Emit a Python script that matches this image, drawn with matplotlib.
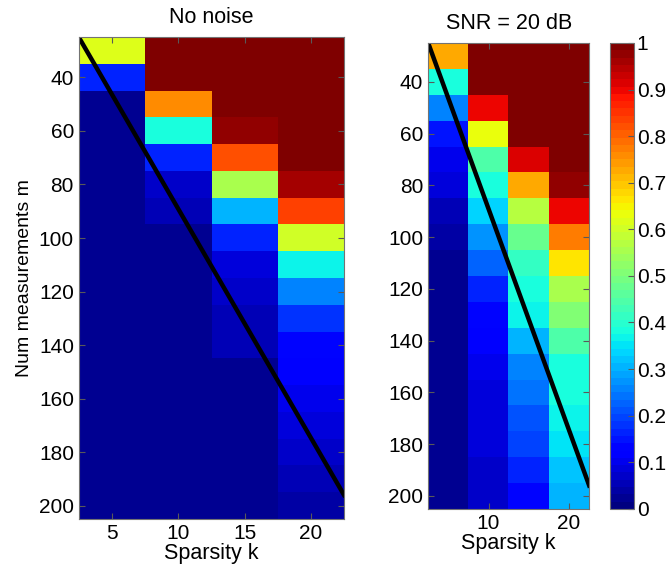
import numpy as np
import matplotlib.pyplot as plt

plt.rcParams['font.family'] = ['Liberation Sans', 'DejaVu Sans']

k_vals = [5, 10, 15, 20]
m_vals = [30, 40, 50, 60, 70, 80, 90, 100, 110, 120, 130, 140, 150, 160, 170, 180, 190, 200]

# probability of failure, one list per sparsity k (rows = m)
clean_k5 = [0.62, 0.16, 0.03, 0.02, 0.02, 0.02, 0.02, 0.02, 0.02, 0.02, 0.02, 0.02, 0.02, 0.02, 0.02, 0.02, 0.02, 0.02]
clean_k10 = [1.00, 1.00, 0.75, 0.38, 0.16, 0.07, 0.05, 0.03, 0.02, 0.02, 0.02, 0.02, 0.02, 0.02, 0.02, 0.02, 0.02, 0.02]
clean_k15 = [1.00, 1.00, 1.00, 0.97, 0.82, 0.55, 0.30, 0.16, 0.09, 0.07, 0.06, 0.05, 0.03, 0.03, 0.03, 0.03, 0.02, 0.02]
clean_k20 = [1.00, 1.00, 1.00, 1.00, 1.00, 0.96, 0.84, 0.60, 0.37, 0.26, 0.18, 0.13, 0.11, 0.10, 0.08, 0.07, 0.05, 0.04]

snr_k5 = [0.72, 0.38, 0.25, 0.15, 0.10, 0.08, 0.06, 0.04, 0.03, 0.03, 0.03, 0.03, 0.03, 0.03, 0.03, 0.03, 0.03, 0.03]
snr_k10 = [1.00, 1.00, 0.90, 0.63, 0.45, 0.38, 0.33, 0.27, 0.22, 0.16, 0.13, 0.12, 0.10, 0.09, 0.08, 0.08, 0.07, 0.07]
snr_k15 = [1.00, 1.00, 1.00, 1.00, 0.92, 0.73, 0.57, 0.48, 0.42, 0.38, 0.37, 0.31, 0.26, 0.24, 0.21, 0.19, 0.16, 0.14]
snr_k20 = [1.00, 1.00, 1.00, 1.00, 1.00, 0.97, 0.90, 0.78, 0.67, 0.56, 0.50, 0.45, 0.39, 0.38, 0.36, 0.35, 0.32, 0.30]

# theoretical bound line (k, m) endpoints
bound_k = [2.5, 22.5]
bound_m = [25, 196]

clean = np.array([clean_k5, clean_k10, clean_k15, clean_k20]).T
snr = np.array([snr_k5, snr_k10, snr_k15, snr_k20]).T

cmap = plt.get_cmap('jet', 64)
ext = (k_vals[0] - 2.5, k_vals[-1] + 2.5, m_vals[-1] + 5, m_vals[0] - 5)

fig = plt.figure(figsize=(6.68, 5.73), dpi=100)
ax1 = fig.add_axes([0.118, 0.094, 0.397, 0.841])
ax2 = fig.add_axes([0.641, 0.112, 0.241, 0.813])
cax = fig.add_axes([0.913, 0.112, 0.036, 0.813])

for ax, data, title in [(ax1, clean, 'No noise'), (ax2, snr, 'SNR = 20 dB')]:
    im = ax.imshow(data, cmap=cmap, vmin=0, vmax=1, extent=ext, aspect='auto',
                   interpolation='nearest')
    ax.plot(bound_k, bound_m, c='black', lw=3.2)
    ax.set_xlim(ext[0], ext[1])
    ax.set_ylim(ext[2], ext[3])
    ax.set_yticks(range(40, 201, 20))
    ax.set_xlabel('Sparsity k', fontsize=15.5, labelpad=0)
    ax.set_title(title, fontsize=15.5, pad=10)
    ax.tick_params(direction='in', top=True, right=True, labelsize=15, length=4,
                   color='0.35')
    for s in ax.spines.values():
        s.set_color('0.45')

ax1.set_xticks([5, 10, 15, 20])
ax2.set_xticks([10, 20])
ax1.set_ylabel('Num measurements m', fontsize=14)

cb = fig.colorbar(im, cax=cax)
cb.set_ticks(np.arange(0, 1.01, 0.1))
cb.set_ticklabels(['0', '0.1', '0.2', '0.3', '0.4', '0.5', '0.6', '0.7', '0.8', '0.9', '1'])
cb.ax.tick_params(direction='in', labelsize=15, length=4, color='0.35', pad=2)
cb.outline.set_edgecolor('0.45')

fig.savefig('out.png', dpi=100)
